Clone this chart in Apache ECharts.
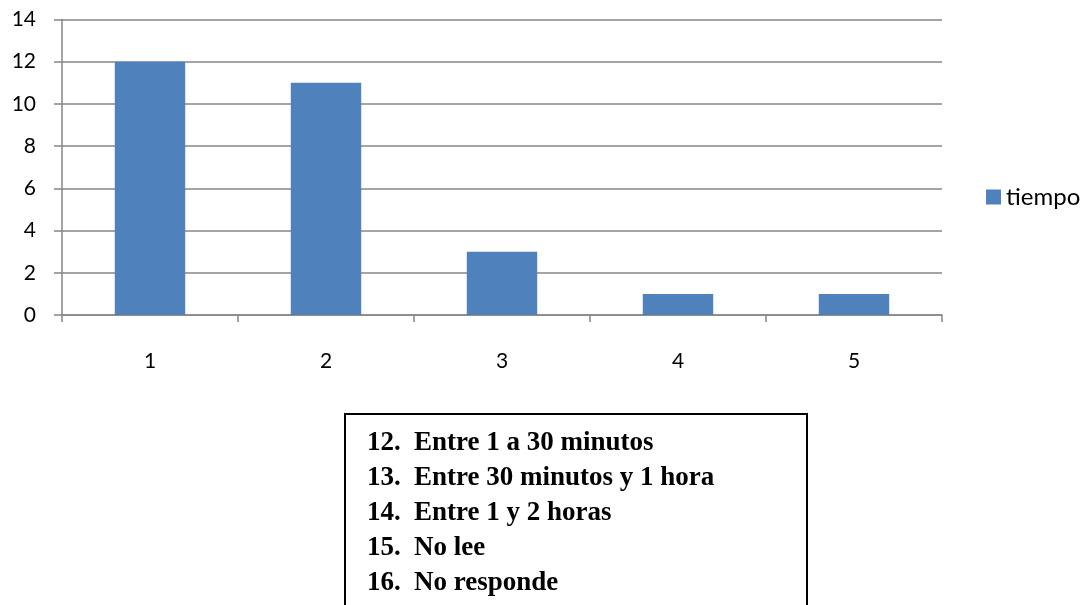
<!DOCTYPE html>
<html>
<head>
<meta charset="utf-8">
<script src="https://cdn.jsdelivr.net/npm/echarts@6/dist/echarts.min.js"></script>
<style>
html,body{margin:0;padding:0;background:#fff;}
#main{width:1087px;height:605px;}
</style>
</head>
<body>
<div id="main"></div>
<script>
var categories = ['1', '2', '3', '4', '5'];
var seriesName = 'tiempo';
var values = [12, 11, 3, 1, 1];
var yTicks = [0, 2, 4, 6, 8, 10, 12, 14];
var noteNumbers = ['12.', '13.', '14.', '15.', '16.'];
var noteLabels = ['Entre 1 a 30 minutos', 'Entre 30 minutos y 1 hora', 'Entre 1 y 2 horas', 'No lee', 'No responde'];

var chart = echarts.init(document.getElementById('main'), null, {renderer: 'canvas'});
var axisGray = '#868686';
var labelFont = 'Lato';

var graphics = [{
  type: 'rect',
  shape: {x: 345, y: 414, width: 462, height: 220},
  style: {fill: '#fff', stroke: '#000', lineWidth: 2}
}];
noteLabels.forEach(function (t, i) {
  var y = 443 + i * 35;
  graphics.push({
    type: 'text', x: 367, y: y,
    style: {text: noteNumbers[i], font: 'bold 27px "Liberation Serif"', fill: '#000', verticalAlign: 'middle'}
  });
  graphics.push({
    type: 'text', x: 414, y: y,
    style: {text: t, font: 'bold 27px "Liberation Serif"', fill: '#000', verticalAlign: 'middle'}
  });
});

chart.setOption({
  animation: false,
  backgroundColor: '#fff',
  grid: {left: 62, right: 145, top: 19.5, bottom: 290, containLabel: false},
  legend: {
    data: [seriesName],
    left: 986, top: 185, padding: 0,
    itemWidth: 15, itemHeight: 15, itemGap: 6,
    icon: 'rect',
    textStyle: {fontFamily: labelFont, fontSize: 24, color: '#000', padding: [0, 0, 0, 0]}
  },
  xAxis: {
    type: 'category',
    data: categories,
    axisLine: {show: true, lineStyle: {color: axisGray, width: 1.5}},
    axisTick: {show: true, length: 7, lineStyle: {color: axisGray, width: 1.5}},
    axisLabel: {margin: 36, fontFamily: labelFont, fontSize: 21, color: '#000'},
    splitLine: {show: false}
  },
  yAxis: {
    type: 'value',
    min: yTicks[0], max: yTicks[yTicks.length - 1], interval: 2,
    axisLine: {show: true, lineStyle: {color: axisGray, width: 1.5}},
    axisTick: {show: true, length: 8, lineStyle: {color: axisGray, width: 1.5}},
    axisLabel: {margin: 26, fontFamily: labelFont, fontSize: 21, color: '#000'},
    splitLine: {show: true, lineStyle: {color: axisGray, width: 1.5}}
  },
  series: [{
    name: seriesName,
    type: 'bar',
    data: values,
    barCategoryGap: '60%',
    itemStyle: {color: '#4F81BD'}
  }],
  graphic: graphics
});
</script>
</body>
</html>
